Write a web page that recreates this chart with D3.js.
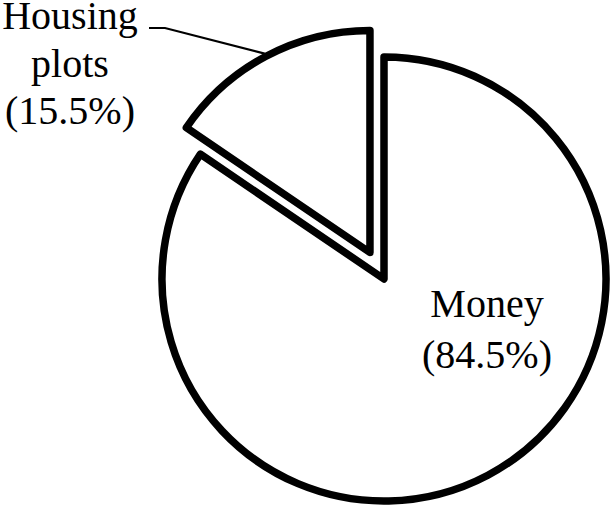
<!DOCTYPE html>
<html>
<head>
<meta charset="utf-8">
<script src="https://cdn.jsdelivr.net/npm/d3@7"></script>
<style>
  html, body { margin: 0; padding: 0; background: #fff; }
  svg { display: block; }
</style>
</head>
<body>
<svg id="chart" width="611" height="506"></svg>
<script>
const categories = ["Money", "Housing plots"];
const values = [84.5, 15.5];
const labelLines = [["Money", "(84.5%)"], ["Housing", "plots", "(15.5%)"]];
const exploded = [false, true];

const W = 611, H = 506;
const cx = 384, cy = 279, R = 222, explode = 30;
const fontSize = 40, lineGap = 47.5;
const FONT = "'Liberation Serif', 'Times New Roman', Times, 'DejaVu Serif', serif";

const svg = d3.select("#chart");
const pie = d3.pie().sort(null).value(d => d.value).startAngle(0).endAngle(2 * Math.PI);
const data = pie(categories.map((c, i) => ({ name: c, value: values[i], lines: labelLines[i], exploded: exploded[i] })));
const arc = d3.arc().innerRadius(0).outerRadius(R);

function offset(d) {
  if (!d.data.exploded) return [0, 0];
  const mid = (d.startAngle + d.endAngle) / 2;
  return [explode * Math.sin(mid), -explode * Math.cos(mid)];
}

const g = svg.append("g").attr("transform", `translate(${cx},${cy})`);

g.selectAll("path.slice")
  .data(data)
  .join("path")
  .attr("class", "slice")
  .attr("transform", d => `translate(${offset(d)})`)
  .attr("d", arc)
  .attr("fill", "#fff")
  .attr("stroke", "#000")
  .attr("stroke-width", 7.5)
  .attr("stroke-linejoin", "round");

// Money label inside the slice
const money = data[0];
const moneyText = svg.append("text")
  .attr("text-anchor", "middle")
  .attr("font-family", FONT)
  .attr("font-size", fontSize)
  .attr("fill", "#000");
money.data.lines.forEach((t, i) => {
  moneyText.append("tspan").attr("x", 487).attr("y", 317 + i * 51).text(t);
});

// Housing label outside with leader line
const house = data[1];
const off = offset(house);
const mid = (house.startAngle + house.endAngle) / 2;
const ax = cx + off[0] + (R + 3) * Math.sin(mid);
const ay = cy + off[1] - (R + 3) * Math.cos(mid);
const lx = 70, ly0 = 29;

svg.append("path")
  .attr("d", d3.line()([[ax, ay], [165, ly0 - 1], [149, ly0 - 1]]))
  .attr("fill", "none")
  .attr("stroke", "#000")
  .attr("stroke-width", 2.2);

const houseText = svg.append("text")
  .attr("text-anchor", "middle")
  .attr("font-family", FONT)
  .attr("font-size", fontSize)
  .attr("fill", "#000");
house.data.lines.forEach((t, i) => {
  houseText.append("tspan").attr("x", lx).attr("y", ly0 + i * lineGap).text(t);
});
</script>
</body>
</html>
